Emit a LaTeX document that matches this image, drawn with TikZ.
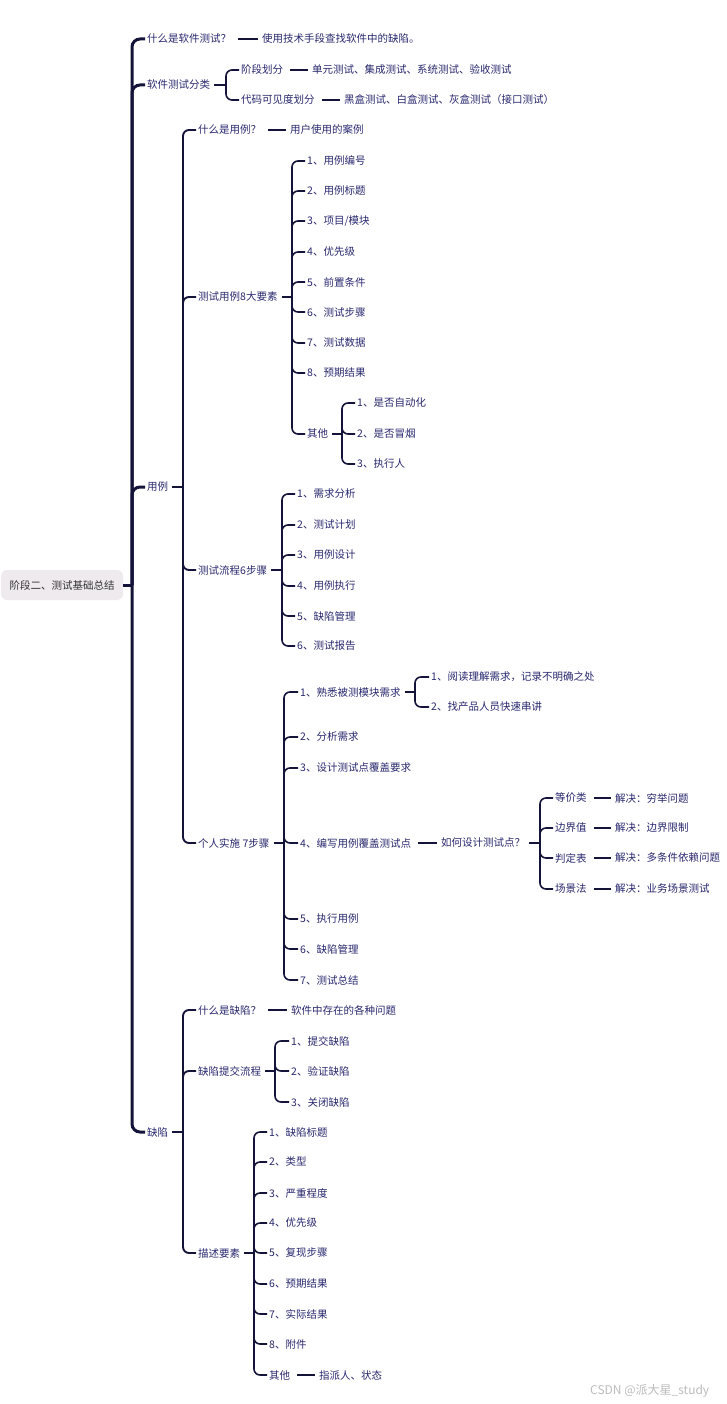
\documentclass[tikz,border=0pt]{standalone}
\usepackage{fontspec}
\setmainfont{Noto Sans CJK SC}
\usetikzlibrary{calc}
\definecolor{txt}{HTML}{28286E}
\definecolor{ln}{HTML}{14143A}
\definecolor{rootfill}{HTML}{EFEAEE}
\definecolor{roottxt}{HTML}{333333}
\definecolor{wm}{HTML}{BBBBBB}
\newcommand{\fs}{\fontsize{10.5}{12}\selectfont}
\tikzset{
 tx/.style={anchor=west, inner xsep=0pt, inner ysep=1pt, text=txt, font=\fs},
 stub/.style={draw=ln, line width=2.4pt, shorten <=4pt},
 br/.style={draw=ln, line width=1.6pt, rounded corners=6pt, shorten >=2pt},
 tr/.style={draw=ln, line width=3pt, rounded corners=8pt, shorten >=2pt},
 single/.style={draw=ln, line width=1.5pt, shorten <=7pt, shorten >=4pt},
}
\begin{document}
\begin{tikzpicture}[x=1pt,y=-1pt]
\useasboundingbox (0,0) rectangle (726,1404);
% root
\node[fill=rootfill, rounded corners=6pt, minimum width=122pt, minimum height=30pt, inner sep=0pt, text=roottxt, font=\fs] (root) at (62,585) {阶段二、测试基础总结};
\coordinate (T) at (132,0);
\draw[draw=ln, line width=3pt] (root.east) -- (root.east -| T);
% level 1
\node[tx] (n1) at (147,39) {什么是软件测试？};
\node[tx] (n2) at (147,85) {软件测试分类};
\node[tx] (n3) at (147,487) {用例};
\node[tx] (n4) at (147,1132) {缺陷};
\foreach \n in {n1,n2,n3,n4} {\draw[tr] (root.east -| T) |- (\n.west);}
% n1
\node[tx] (n1a) at (262,39) {使用技术手段查找软件中的缺陷。};
\draw[single] (n1.east) -- (n1a.west);
% n2
\coordinate (b2) at (226,0);
\node[tx] (n2a) at (241,70) {阶段划分};
\node[tx] (n2b) at (241,100) {代码可见度划分};
\draw[stub] (n2.east) -- (n2.east -| b2);
\draw[br] (n2.east -| b2) |- (n2a.west);
\draw[br] (n2.east -| b2) |- (n2b.west);
\node[tx] (n2a1) at (312,70) {单元测试、集成测试、系统测试、验收测试};
\node[tx] (n2b1) at (344,100) {黑盒测试、白盒测试、灰盒测试（接口测试）};
\draw[single] (n2a.east) -- (n2a1.west);
\draw[single] (n2b.east) -- (n2b1.west);
% n3 用例
\coordinate (b3) at (183,0);
\draw[stub] (n3.east) -- (n3.east -| b3);
\node[tx] (u1) at (198,130) {什么是用例？};
\node[tx] (u2) at (198,297) {测试用例8大要素};
\node[tx] (u3) at (198,570) {测试流程6步骤};
\node[tx] (u4) at (198,843) {个人实施 7步骤};
\foreach \n in {u1,u2,u3,u4} {\draw[br, line width=1.9pt] (n3.east -| b3) |- (\n.west);}
\node[tx] (u1a) at (290,130) {用户使用的案例};
\draw[single] (u1.east) -- (u1a.west);
% u2
\coordinate (bu2) at (292,0);
\draw[stub] (u2.east) -- (u2.east -| bu2);
\foreach \i/\y/\t in {1/161/{1、用例编号}, 2/191/{2、用例标题}, 3/221/{3、项目/模块}, 4/252/{4、优先级}, 5/282/{5、前置条件}, 6/312/{6、测试步骤}, 7/343/{7、测试数据}, 8/373/{8、预期结果}, 9/434/{其他}} {
  \node[tx] (e\i) at (307,\y) {\t};
  \draw[br] (u2.east -| bu2) |- (e\i.west);
}
\coordinate (be9) at (342,0);
\draw[stub] (e9.east) -- (e9.east -| be9);
\foreach \i/\y/\t in {1/403/1、是否自动化, 2/434/2、是否冒烟, 3/464/3、执行人} {
  \node[tx] (o\i) at (357,\y) {\t};
  \draw[br] (e9.east -| be9) |- (o\i.west);
}
% u3
\coordinate (bu3) at (282,0);
\draw[stub] (u3.east) -- (u3.east -| bu3);
\foreach \i/\y/\t in {1/494/1、需求分析, 2/525/2、测试计划, 3/555/3、用例设计, 4/586/4、用例执行, 5/616/5、缺陷管理, 6/646/6、测试报告} {
  \node[tx] (f\i) at (297,\y) {\t};
  \draw[br] (u3.east -| bu3) |- (f\i.west);
}
% u4
\coordinate (bu4) at (284,0);
\draw[stub] (u4.east) -- (u4.east -| bu4);
\foreach \i/\y/\t in {1/692/1、熟悉被测模块需求, 2/737/2、分析需求, 3/768/3、设计测试点覆盖要求, 4/843/4、编写用例覆盖测试点, 5/919/5、执行用例, 6/949/6、缺陷管理, 7/980/7、测试总结} {
  \node[tx] (s\i) at (300,\y) {\t};
  \draw[br] (u4.east -| bu4) |- (s\i.west);
}
\coordinate (bs1) at (415,0);
\draw[stub] (s1.east) -- (s1.east -| bs1);
\node[tx] (s1a) at (431,677) {1、阅读理解需求，记录不明确之处};
\node[tx] (s1b) at (431,707) {2、找产品人员快速串讲};
\draw[br] (s1.east -| bs1) |- (s1a.west);
\draw[br] (s1.east -| bs1) |- (s1b.west);
\node[tx] (q) at (441,843) {如何设计测试点？};
\draw[single] (s4.east) -- (q.west);
\coordinate (bq) at (540,0);
\draw[stub] (q.east) -- (q.east -| bq);
\foreach \i/\y/\t/\r in {1/798/等价类/解决：穷举问题, 2/828/边界值/解决：边界限制, 3/858/判定表/解决：多条件依赖问题, 4/889/场景法/解决：业务场景测试} {
  \node[tx] (m\i) at (555,\y) {\t};
  \node[tx] (r\i) at (615,\y) {\r};
  \draw[br] (q.east -| bq) |- (m\i.west);
  \draw[single] (m\i.east) -- (r\i.west);
}
% n4 缺陷
\coordinate (b4) at (183,0);
\draw[stub] (n4.east) -- (n4.east -| b4);
\node[tx] (d1) at (198,1010) {什么是缺陷？};
\node[tx] (d2) at (198,1071) {缺陷提交流程};
\node[tx] (d3) at (198,1253) {描述要素};
\foreach \n in {d1,d2,d3} {\draw[br, line width=1.9pt] (n4.east -| b4) |- (\n.west);}
\node[tx] (d1a) at (291,1010) {软件中存在的各种问题};
\draw[single] (d1.east) -- (d1a.west);
\coordinate (bd2) at (275,0);
\draw[stub] (d2.east) -- (d2.east -| bd2);
\foreach \i/\y/\t in {1/1041/1、提交缺陷, 2/1071/2、验证缺陷, 3/1102/3、关闭缺陷} {
  \node[tx] (g\i) at (291,\y) {\t};
  \draw[br] (d2.east -| bd2) |- (g\i.west);
}
\coordinate (bd3) at (254,0);
\draw[stub] (d3.east) -- (d3.east -| bd3);
\foreach \i/\y/\t in {1/1132/1、缺陷标题, 2/1162/2、类型, 3/1193/3、严重程度, 4/1223/4、优先级, 5/1253/5、复现步骤, 6/1284/6、预期结果, 7/1314/7、实际结果, 8/1344/8、附件, 9/1375/其他} {
  \node[tx] (h\i) at (269,\y) {\t};
  \draw[br] (d3.east -| bd3) |- (h\i.west);
}
\node[tx] (h9a) at (319,1375) {指派人、状态};
\draw[single] (h9.east) -- (h9a.west);
% watermark
\node[anchor=west, inner sep=0pt, text=wm, font=\fontsize{12}{14}\selectfont] (wmk) at (590,1391) {CSDN @派大星\_study};
\end{tikzpicture}
\end{document}
